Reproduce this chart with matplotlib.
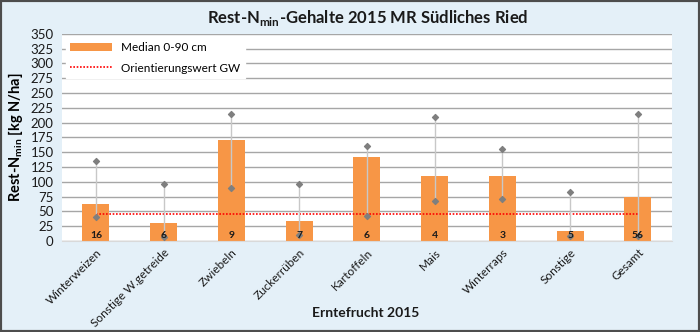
import matplotlib.pyplot as plt
import numpy as np

plt.rcParams['font.family'] = ['Lato', 'DejaVu Sans']
plt.rcParams['mathtext.fontset'] = 'custom'
plt.rcParams['mathtext.rm'] = 'Lato'
plt.rcParams['mathtext.bf'] = 'Lato:bold'

# --- Daten ---
kulturen = ['Winterweizen', 'Sonstige W.getreide', 'Zwiebeln', 'Zuckerrüben', 'Kartoffeln',
            'Mais', 'Winterraps', 'Sonstige', 'Gesamt']
median = [62, 31, 170, 33, 142, 110, 110, 17, 74]
maximum = [136, 96, 214, 97, 161, 210, 156, 82, 214]
minimum = [40, 7, 90, 10, 42, 68, 71, 9, 8]
anzahl = [16, 6, 9, 7, 6, 4, 3, 5, 56]
orientierungswert = 45

bg = '#E4F0F8'
fig = plt.figure(figsize=(7, 3.32), dpi=100, facecolor=bg)
ax = fig.add_axes([0.0886, 0.274, 0.871, 0.624])
ax.set_facecolor('white')

x = np.arange(len(kulturen))
bars = ax.bar(x, median, width=0.4, color='#F79646', zorder=2, label='Median 0-90 cm')
line, = ax.plot([x[0], x[-1]], [orientierungswert] * 2, color='#FF0000', ls=(0, (1, 1)), lw=1.2,
                zorder=3, label='Orientierungswert GW')
for i in x:
    ax.plot([i, i], [minimum[i], maximum[i]], color='#C8C8C8', lw=1, zorder=4)
ax.scatter(x, maximum, marker='D', s=9, color='#7F7F7F', zorder=5)
ax.scatter(x, minimum, marker='D', s=9, color='#7F7F7F', zorder=5)
for i, n in zip(x, anzahl):
    ax.text(i, 10, str(n), ha='center', va='center', fontsize=7.5, fontweight='bold', color='#1a1a1a', zorder=6)

ax.set_ylim(0, 350)
ax.set_xlim(-0.5, len(kulturen) - 0.5)
ax.set_yticks(np.arange(0, 351, 25))
ax.yaxis.grid(True, color='#A6A6A6', lw=1)
ax.set_axisbelow(True)
for s in ['left', 'right', 'top']:
    ax.spines[s].set_visible(False)
ax.spines['bottom'].set_color('#D9D9D9')
ax.tick_params(axis='y', length=0, labelsize=9.5, colors='#1a1a1a', pad=6)
ax.tick_params(axis='x', length=0, labelsize=8.5, colors='#1a1a1a', pad=4)
ax.set_xticks(x)
ax.set_xticklabels(kulturen, rotation=45, ha='right', rotation_mode='anchor')

ax.set_ylabel(r'Rest-N$_{\mathbf{min}}$ [kg N/ha]', fontsize=10.5, fontweight='bold', labelpad=4)
fig.text(0.523, 1 - 313 / 332, 'Erntefrucht 2015', ha='center', va='center',
         fontsize=10, fontweight='bold', color='#1a1a1a')
fig.text(0.525, 0.93, r'Rest-N$_{\mathbf{min}}$-Gehalte 2015 MR Südliches Ried', ha='center',
         fontsize=12, fontweight='bold', color='#1a1a1a')

ax.legend([bars, line], ['Median 0-90 cm', 'Orientierungswert GW'], loc='upper left',
          fontsize=8.5, frameon=True, fancybox=False, edgecolor='white', framealpha=1,
          borderaxespad=0.3, handlelength=3.5, labelspacing=0.8)

# dunkler Rahmen
fig.patches.append(plt.Rectangle((0, 0), 1, 1, transform=fig.transFigure, fill=False,
                                 edgecolor='#4D4D4D', lw=3))

plt.savefig('out.png', dpi=100, facecolor=bg)
